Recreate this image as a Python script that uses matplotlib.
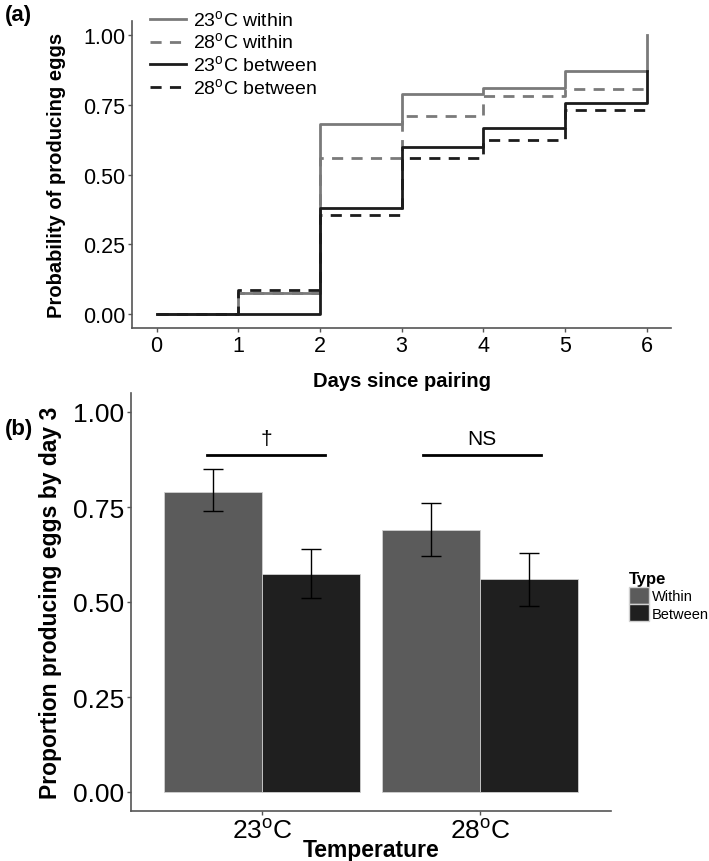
import matplotlib
matplotlib.use("Agg")
import matplotlib.pyplot as plt
from matplotlib.patches import Patch

# panel (a): cumulative probability of producing eggs
days = [0, 1, 2, 3, 4, 5, 6]
within23 = [0, 0.075, 0.68, 0.79, 0.81, 0.87, 1.00]
within28 = [0, 0.075, 0.56, 0.71, 0.78, 0.805, 0.805]
between23 = [0, 0, 0.38, 0.60, 0.665, 0.755, 0.87]
between28 = [0, 0.085, 0.355, 0.56, 0.625, 0.73, 0.73]

# panel (b): proportion by day 3
temps = ["23$^{\\mathregular{o}}$C", "28$^{\\mathregular{o}}$C"]
within_prop = [0.79, 0.69]
within_lo = [0.74, 0.62]
within_hi = [0.85, 0.76]
between_prop = [0.575, 0.56]
between_lo = [0.51, 0.49]
between_hi = [0.64, 0.63]
sig_labels = ["\u2020", "NS"]

sans = ["Liberation Sans", "DejaVu Sans"]
gray = "#7a7a7a"
dark = "#1c1c1c"

fig = plt.figure(figsize=(7.09, 8.62), dpi=100)

# ---- (a)
ax1 = fig.add_axes([132/709, 1-329/862, (671-132)/709, (329-22)/862])
ax1.step(days, within23, where="post", color=gray, lw=2, label="23$^{\\mathregular{o}}$C within")
ax1.step(days, within28, where="post", color=gray, lw=2, ls=(0, (4, 3)), label="28$^{\\mathregular{o}}$C within")
ax1.step(days, between23, where="post", color=dark, lw=2, label="23$^{\\mathregular{o}}$C between")
ax1.step(days, between28, where="post", color=dark, lw=2, ls=(0, (4, 3)), label="28$^{\\mathregular{o}}$C between")
ax1.set_xlim(-0.3, 6.3)
ax1.set_ylim(-0.05, 1.05)
ax1.set_xticks(days)
ax1.set_yticks([0, 0.25, 0.5, 0.75, 1.0])
ax1.set_yticklabels(["0.00", "0.25", "0.50", "0.75", "1.00"])
for lab in ax1.get_xticklabels() + ax1.get_yticklabels():
    lab.set_family(sans)
    lab.set_fontsize(15.5)
ax1.set_ylabel("Probability of producing eggs", fontsize=14.5, fontweight="bold", family=sans, labelpad=12)
ax1.set_xlabel("Days since pairing", fontsize=14.5, fontweight="bold", family=sans, labelpad=11)
ax1.legend(loc="upper left", bbox_to_anchor=(150/709, 1-10/862), bbox_transform=fig.transFigure,
           frameon=False, prop={"family": sans, "size": 14}, handlelength=1.85,
           handletextpad=0.35, labelspacing=0.1, borderpad=0, borderaxespad=0)

# ---- (b)
ax2 = fig.add_axes([131/709, 1-812/862, (611-131)/709, (812-394)/862])
ax2.patch.set_alpha(0)
x = [1, 2]
w = 0.45
xw = [v - w/2 for v in x]
xb = [v + w/2 for v in x]
ax2.bar(xw, within_prop, width=w, color="#5b5b5b", edgecolor="#d0d0d0", linewidth=0.6, label="Within")
ax2.bar(xb, between_prop, width=w, color="#1f1f1f", edgecolor="#d0d0d0", linewidth=0.6, label="Between")
ax2.errorbar(xw, within_prop,
             yerr=[[p - l for p, l in zip(within_prop, within_lo)], [h - p for p, h in zip(within_prop, within_hi)]],
             fmt="none", ecolor="black", elinewidth=1, capsize=7, capthick=1)
ax2.errorbar(xb, between_prop,
             yerr=[[p - l for p, l in zip(between_prop, between_lo)], [h - p for p, h in zip(between_prop, between_hi)]],
             fmt="none", ecolor="black", elinewidth=1, capsize=7, capthick=1)
for cx, s in zip([1.02, 2.01], sig_labels):
    ax2.plot([cx - 0.27, cx + 0.27], [0.887, 0.887], color="black", lw=2)
    ax2.text(cx, 0.905, s, ha="center", va="bottom", fontsize=15, family=sans)
ax2.set_xlim(0.4, 2.6)
ax2.set_ylim(-0.05, 1.05)
ax2.set_xticks(x)
ax2.set_xticklabels(temps)
ax2.set_yticks([0, 0.25, 0.5, 0.75, 1.0])
ax2.set_yticklabels(["0.00", "0.25", "0.50", "0.75", "1.00"])
for lab in ax2.get_xticklabels() + ax2.get_yticklabels():
    lab.set_family(sans)
    lab.set_fontsize(19)
ax2.set_ylabel("Proportion producing eggs by day 3", fontsize=16.5, fontweight="bold", family=sans, labelpad=8)
ax2.set_xlabel("Temperature", fontsize=16.5, fontweight="bold", family=sans, labelpad=-3)
handles = [Patch(facecolor="#5b5b5b", edgecolor="#d0d0d0", label="Within"),
           Patch(facecolor="#1f1f1f", edgecolor="#d0d0d0", label="Between")]
leg2 = ax2.legend(handles=handles, title="Type", loc="upper left", bbox_to_anchor=(629/709, 1-572/862),
                  bbox_transform=fig.transFigure, frameon=False, prop={"family": sans, "size": 10.5},
                  handlelength=1.4, handleheight=1.4, handletextpad=0.15, labelspacing=0.05,
                  borderpad=0, borderaxespad=0, alignment="left")
leg2.get_title().set_fontweight("bold")
leg2.get_title().set_family(sans)
leg2.get_title().set_fontsize(12)

for ax in (ax1, ax2):
    for sp in ("top", "right"):
        ax.spines[sp].set_visible(False)
    for sp in ("left", "bottom"):
        ax.spines[sp].set_color("#555555")
        ax.spines[sp].set_linewidth(1.2)
    ax.tick_params(color="#555555", length=3, width=1, pad=2, labelcolor="black")

fig.text(5/709, 1-15/862, "(a)", fontsize=16, fontweight="bold", family=sans, va="center")
fig.text(5/709, 1-430/862, "(b)", fontsize=16, fontweight="bold", family=sans, va="center")

fig.savefig("out.png", dpi=100)
